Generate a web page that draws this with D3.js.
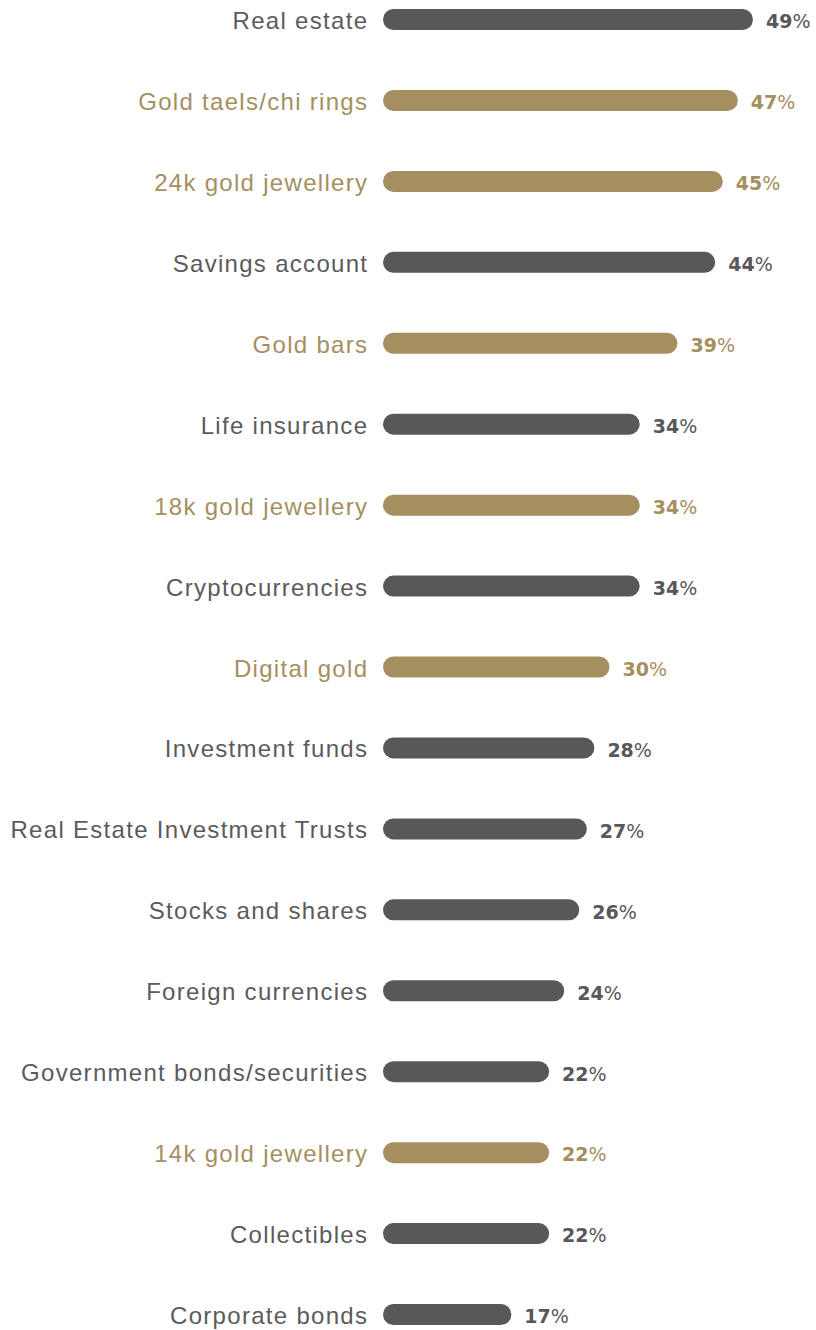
<!DOCTYPE html>
<html>
<head>
<meta charset="utf-8">
<script src="https://cdn.jsdelivr.net/npm/d3@7/dist/d3.min.js"></script>
<style>
  html, body { margin: 0; padding: 0; background: #ffffff; }
  svg { display: block; }
</style>
</head>
<body>
<svg id="chart" width="816" height="1330"></svg>
<script>
// Asset categories, top to bottom
const categories = [
  "Real estate", "Gold taels/chi rings", "24k gold jewellery", "Savings account",
  "Gold bars", "Life insurance", "18k gold jewellery", "Cryptocurrencies",
  "Digital gold", "Investment funds", "Real Estate Investment Trusts",
  "Stocks and shares", "Foreign currencies", "Government bonds/securities",
  "14k gold jewellery", "Collectibles", "Corporate bonds"
];
// Share of respondents (%)
const values = [49, 47, 45, 44, 39, 34, 34, 34, 30, 28, 27, 26, 24, 22, 22, 22, 17];
// Gold products are highlighted
const isGold = [false, true, true, false, true, false, true, false, true, false, false, false, false, false, true, false, false];

const data = categories.map((c, i) => ({ name: c, value: values[i], gold: isGold[i] }));

const GREY = "#58585a";
const GOLD = "#a58f60";
const TEXT_GREY = "#5b5b5d";

const svg = d3.select("#chart");

const x = d3.scaleLinear().domain([0, 50]).range([383, 760.5]);
const y = d3.scalePoint().domain(categories).range([19.5, 1314.5]);
const barH = 21;

const rows = svg.selectAll("g.row").data(data).join("g")
  .attr("class", "row")
  .attr("transform", d => `translate(0,${y(d.name)})`);

rows.append("rect")
  .attr("x", x(0))
  .attr("y", -barH / 2)
  .attr("width", d => x(d.value) - x(0))
  .attr("height", barH)
  .attr("rx", barH / 2)
  .attr("ry", barH / 2)
  .attr("fill", d => d.gold ? GOLD : GREY);

// Category names, right-aligned against the bars
const LS = 1.3;
rows.append("text")
  .attr("x", 367 + LS)
  .attr("y", 9.5)
  .attr("text-anchor", "end")
  .attr("font-family", "'Liberation Sans', Arial, sans-serif")
  .attr("font-size", 24)
  .attr("letter-spacing", LS)
  .attr("fill", d => d.gold ? GOLD : TEXT_GREY)
  .text(d => d.name);

// Value labels at the bar ends
const val = rows.append("text")
  .attr("x", d => x(d.value) + 13)
  .attr("y", 8.8)
  .attr("font-family", "'DejaVu Sans', sans-serif")
  .attr("font-size", 19)
  .attr("fill", d => d.gold ? GOLD : GREY);
val.append("tspan").attr("font-weight", 700).text(d => d.value);
val.append("tspan").attr("font-weight", 400).text("%");
</script>
</body>
</html>
